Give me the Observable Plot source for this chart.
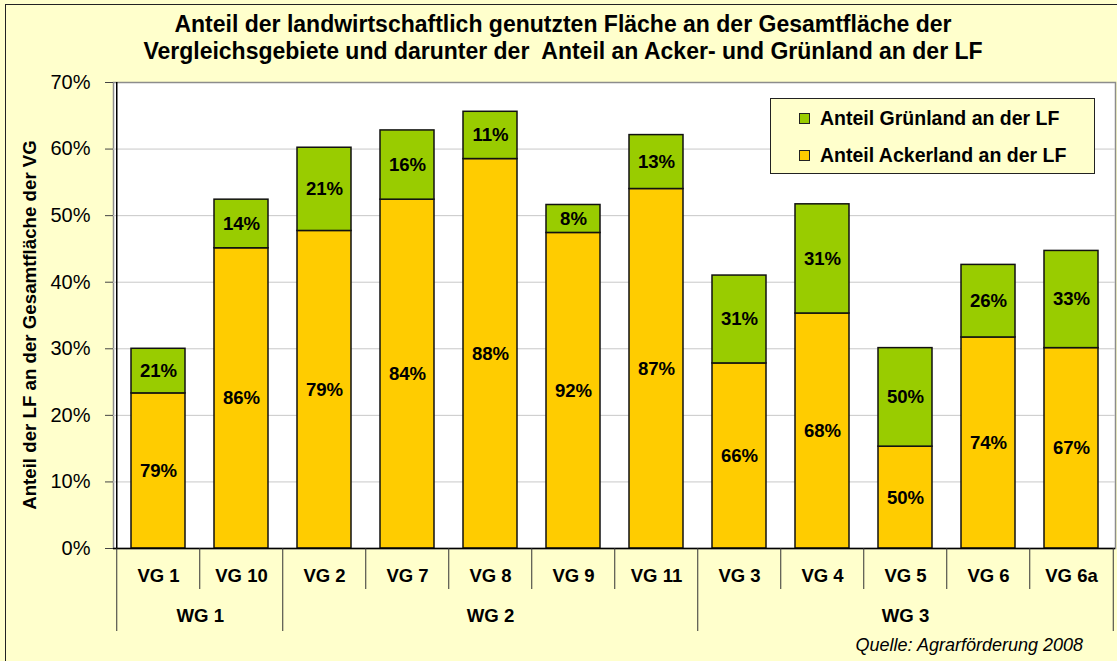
<!DOCTYPE html>
<html><head><meta charset="utf-8">
<script src="https://cdn.jsdelivr.net/npm/d3@7"></script>
<script src="https://cdn.jsdelivr.net/npm/@observablehq/plot@0.6"></script>
<style>
body{margin:0;background:#fff;}
#chart{position:relative;width:1117px;height:661px;background:#FFFFCC;overflow:hidden;font-family:'Liberation Sans',Arial,sans-serif;color:#000;}
#outer{position:absolute;left:5px;top:4px;width:1200px;height:800px;border:1.5px solid #222;box-sizing:border-box;}
#title{position:absolute;left:0;top:10.5px;width:1126px;text-align:center;font-weight:bold;font-size:23px;line-height:27.5px;}
#ytitle{position:absolute;left:30px;top:325px;transform:translate(-50%,-50%) rotate(-90deg);white-space:nowrap;font-weight:bold;font-size:18.7px;}
#legend{position:absolute;left:770px;top:98px;width:325px;height:76px;box-sizing:border-box;border:1.2px solid #222;background:#FFFFCC;}
.lrow{position:absolute;left:28px;height:22px;display:flex;align-items:center;font-weight:bold;font-size:19.5px;white-space:nowrap;}
.sw{width:11px;height:11px;box-sizing:border-box;border:1.2px solid #222;margin-right:10px;}
#caption{position:absolute;right:34px;top:634.7px;font-style:italic;font-size:18px;line-height:20px;white-space:nowrap;}
svg{position:absolute;left:0;top:0;}
</style></head><body>
<div id="chart"><div id="outer"></div></div>
<script>
// ---- data ----
const categories = ["VG 1","VG 10","VG 2","VG 7","VG 8","VG 9","VG 11","VG 3","VG 4","VG 5","VG 6","VG 6a"];
const groupOf    = ["WG 1","WG 1","WG 2","WG 2","WG 2","WG 2","WG 2","WG 3","WG 3","WG 3","WG 3","WG 3"];
// share of total area (bar segment heights)
const ackerValues = [0.233, 0.451, 0.477, 0.524, 0.585, 0.474, 0.540, 0.278, 0.353, 0.153, 0.317, 0.301];
const gruenValues = [0.067, 0.073, 0.125, 0.104, 0.071, 0.042, 0.081, 0.132, 0.164, 0.148, 0.109, 0.146];
// shares of the LF (segment labels, in %)
const ackerShare = [79, 86, 79, 84, 88, 92, 87, 66, 68, 50, 74, 67];
const gruenShare = [21, 14, 21, 16, 11, 8, 13, 31, 31, 50, 26, 33];
const seriesNames = ["Anteil Ackerland an der LF", "Anteil Grünland an der LF"];
const seriesColors = ["#FFCC00", "#99CC00"];
const yTicks = [0, 0.1, 0.2, 0.3, 0.4, 0.5, 0.6, 0.7];
const titleLines = ["Anteil der landwirtschaftlich genutzten Fläche an der Gesamtfläche der",
                    "Vergleichsgebiete und darunter der\u00A0 Anteil an Acker- und Grünland an der LF"];
const yTitle = "Anteil der LF an der Gesamtfläche der VG";
const caption = "Quelle: Agrarförderung 2008";

// ---- table ----
const rows = categories.flatMap((vg, i) => [
  {vg, series: seriesNames[0], value: ackerValues[i], label: ackerShare[i] + "%"},
  {vg, series: seriesNames[1], value: gruenValues[i], label: gruenShare[i] + "%"}
]);

const W = 1117, H = 661, mL = 113, mR = 2, mT = 82, mB = 113;
const step = (W - mL - mR) / categories.length;
const frameH = H - mT - mB;

// dividers below the axis
const shortDiv = [], longDiv = [];
categories.forEach((c, i) => {
  if (i === 0 || groupOf[i] !== groupOf[i - 1]) longDiv.push(c); else shortDiv.push(c);
});
// group label positions
const groupNames = [...new Set(groupOf)];
const groupMarks = groupNames.map(g => {
  const idx = groupOf.map((d, i) => d === g ? i : -1).filter(i => i >= 0);
  const center = (idx[0] + idx[idx.length - 1]) / 2;
  const base = Math.floor(center);
  return Plot.text([{cat: categories[base], name: g}], {
    x: "cat", text: "name", dx: (center - base) * step, frameAnchor: "bottom", dy: 73,
    fontSize: 18.6, fontWeight: "bold", fill: "black"
  });
});

const chart = Plot.plot({
  width: W, height: H,
  marginLeft: mL, marginRight: mR, marginTop: mT, marginBottom: mB,
  style: {background: "transparent", fontFamily: "'Liberation Sans', Arial, sans-serif", overflow: "visible"},
  x: {domain: categories, paddingInner: 0.35, paddingOuter: 0.175},
  y: {domain: [0, 0.7]},
  color: {domain: seriesNames, range: seriesColors},
  marks: [
    Plot.frame({fill: "white", stroke: "#8c8c8c", strokeWidth: 1.5}),
    Plot.gridY(yTicks.slice(1, -1), {stroke: "#c8c8c8", strokeOpacity: 1}),
    Plot.barY(rows, {x: "vg", y: "value", fill: "series", stroke: "#111", strokeWidth: 1.5}),
    Plot.text(rows, Plot.stackY({x: "vg", y: "value", text: "label", fontSize: 18.6, fontWeight: "bold", fill: "black"})),
    Plot.ruleY([0], {stroke: "black", strokeWidth: 1.5}),
    Plot.ruleX([categories[0]], {dx: -step / 2, stroke: "black", strokeWidth: 1.5}),
    Plot.axisY({ticks: yTicks, tickFormat: d => Math.round(d * 100) + "%", tickSize: 8, tickPadding: 15,
                fontSize: 20, label: null, stroke: "#444", fill: "black"}),
    Plot.axisX({tickSize: 0, tickPadding: 20, fontSize: 18.5, fontWeight: "bold", label: null, fill: "black"}),
    Plot.ruleX(shortDiv, {dx: -step / 2, insetTop: frameH, insetBottom: -41, stroke: "#333"}),
    Plot.ruleX(longDiv, {dx: -step / 2, insetTop: frameH, insetBottom: -83, stroke: "#333"}),
    Plot.ruleX([categories[categories.length - 1]], {dx: step / 2, insetTop: frameH, insetBottom: -83, stroke: "#333"}),
    ...groupMarks
  ]
});

const root = document.getElementById("chart");
root.appendChild(chart);

const t = document.createElement("div");
t.id = "title";
t.innerHTML = titleLines.join("<br>");
root.appendChild(t);

const yt = document.createElement("div");
yt.id = "ytitle"; yt.textContent = yTitle;
root.appendChild(yt);

const lg = document.createElement("div");
lg.id = "legend";
[1, 0].forEach((si, r) => {
  const row = document.createElement("div");
  row.className = "lrow";
  row.style.top = (r === 0 ? 8.5 : 45) + "px";
  const sw = document.createElement("div");
  sw.className = "sw"; sw.style.background = seriesColors[si];
  row.appendChild(sw);
  row.appendChild(document.createTextNode(seriesNames[si]));
  lg.appendChild(row);
});
root.appendChild(lg);

const cp = document.createElement("div");
cp.id = "caption"; cp.textContent = caption;
root.appendChild(cp);
</script>
</body></html>
